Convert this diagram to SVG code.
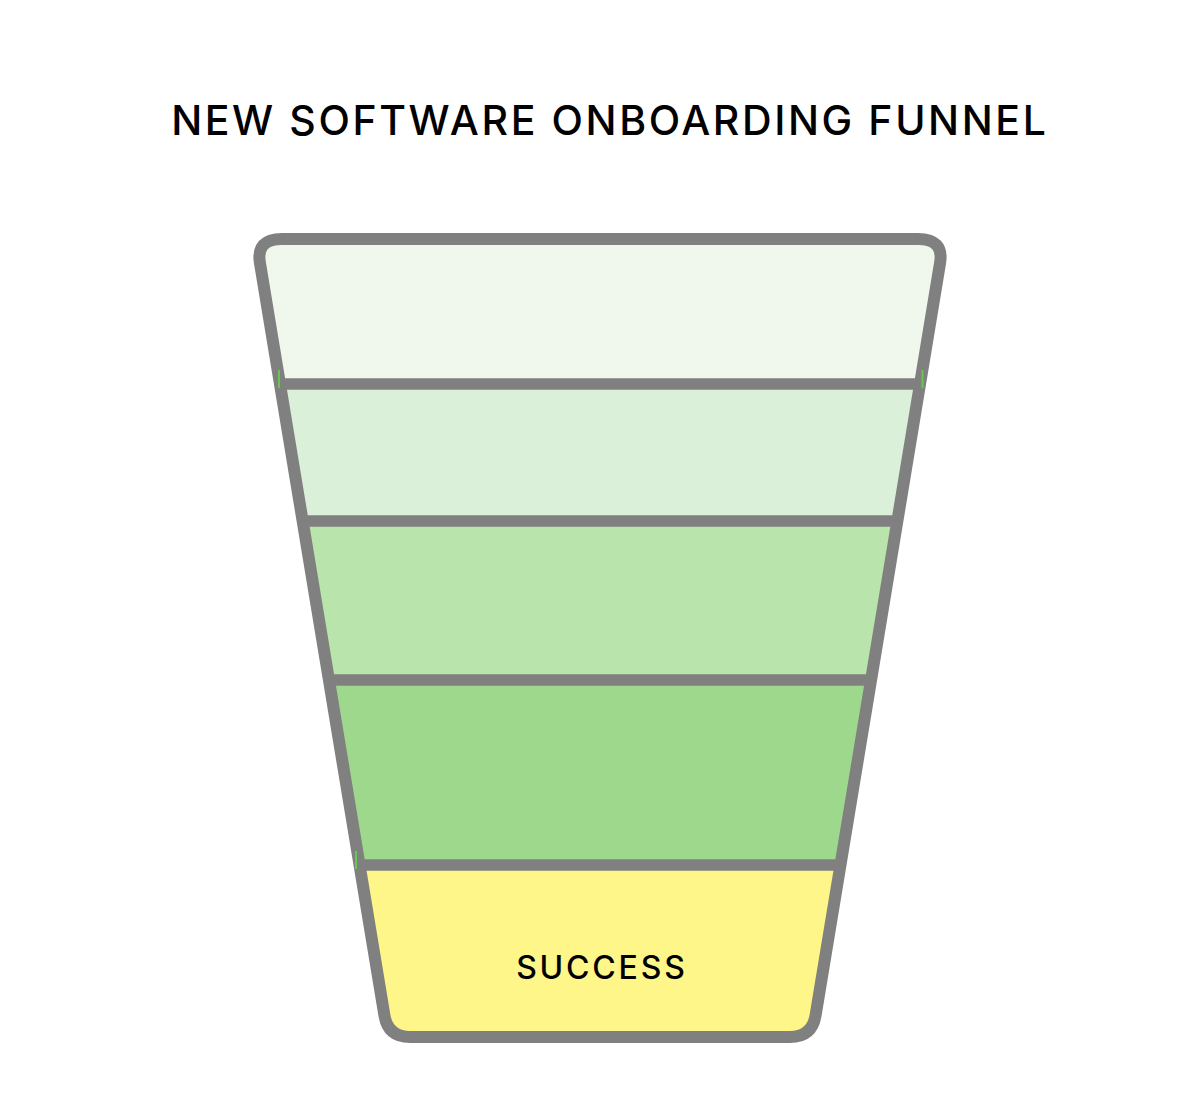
<svg xmlns="http://www.w3.org/2000/svg" width="1200" height="1095" viewBox="0 0 1200 1095">
<style>
.title{font-family:Inter,"Liberation Sans",Arial,sans-serif;font-size:41px;font-weight:500;fill:#000;letter-spacing:2.6px}
.lbl{font-family:Inter,"Liberation Sans",Arial,sans-serif;font-size:32px;font-weight:500;fill:#000;letter-spacing:2.8px}
.outline{fill:none;stroke:#808080;stroke-width:12;stroke-linejoin:round}
.div{stroke:#808080;stroke-width:11.5;stroke-linecap:butt}
.tick{stroke:#66c84c;stroke-width:2}
</style>
<defs>
<clipPath id="funnelClip">
<path d="M282,239 L918,239 Q944,239 940.1,262.7 L815.6,1015.3 Q812,1037 790,1037 L410,1037 Q388,1037 384.4,1015.3 L259.9,262.7 Q256,239 282,239 Z"/>
</clipPath>
</defs>
<rect width="1200" height="1095" fill="#ffffff"/>
<text class="title" x="609.8" y="135" text-anchor="middle">NEW SOFTWARE ONBOARDING FUNNEL</text>
<g clip-path="url(#funnelClip)">
<g id="stage1"><rect x="240" y="230" width="720" height="154" fill="#f0f8ee"/></g>
<g id="stage2"><rect x="240" y="384" width="720" height="137" fill="#daf0d8"/></g>
<g id="stage3"><rect x="240" y="521" width="720" height="159" fill="#b9e4ab"/></g>
<g id="stage4"><rect x="240" y="680" width="720" height="185" fill="#9ed88c"/></g>
<g id="stage5"><rect x="240" y="865" width="720" height="180" fill="#fef688"/></g>
</g>
<g id="connectors">
<line class="div" x1="280" y1="384" x2="920" y2="384"/>
<line class="div" x1="302" y1="521" x2="898" y2="521"/>
<line class="div" x1="328" y1="680" x2="872" y2="680"/>
<line class="div" x1="358" y1="865" x2="842" y2="865"/>
</g>
<g id="outline">
<path class="outline" d="M282,239 L918,239 Q944,239 940.1,262.7 L815.6,1015.3 Q812,1037 790,1037 L410,1037 Q388,1037 384.4,1015.3 L259.9,262.7 Q256,239 282,239 Z"/>
</g>
<g id="ticks">
<line class="tick" x1="279" y1="370" x2="279" y2="388"/>
<line class="tick" x1="922.5" y1="370" x2="922.5" y2="388"/>
<line class="tick" x1="356" y1="851" x2="356" y2="869"/>
</g>
<g id="success-label">
<text class="lbl" x="601.9" y="979" text-anchor="middle">SUCCESS</text>
</g>
</svg>
